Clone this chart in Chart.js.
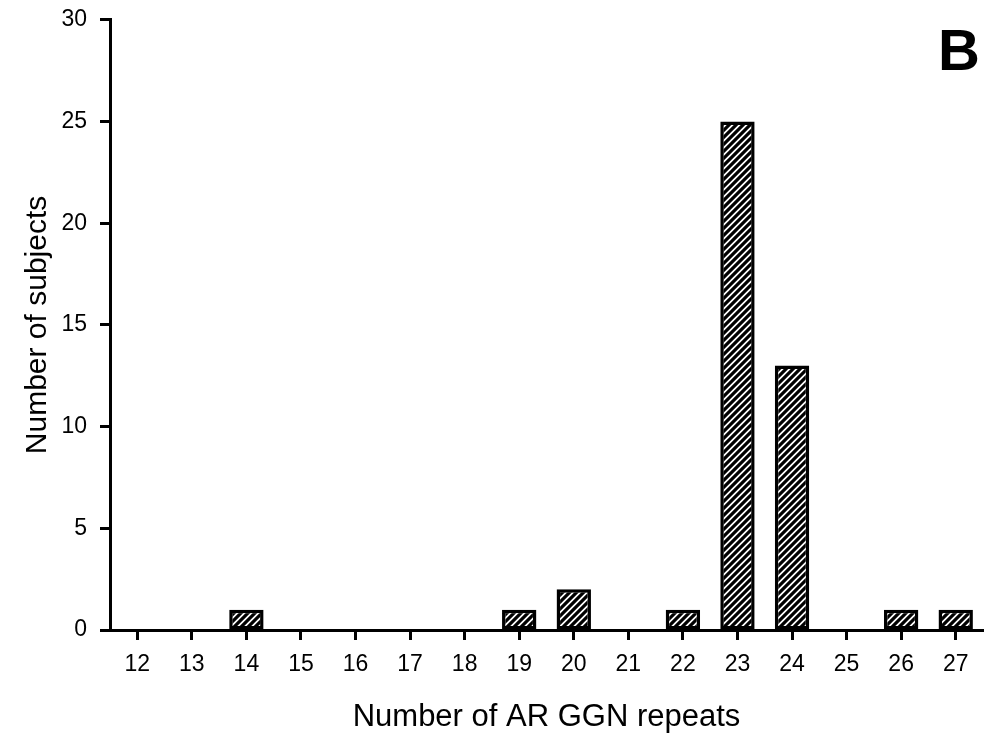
<!DOCTYPE html>
<html>
<head>
<meta charset="utf-8">
<script src="https://cdn.jsdelivr.net/npm/chart.js@4"></script>
<style>
  html, body { margin: 0; padding: 0; background: #fff; }
  #wrap { width: 986px; height: 740px; }
</style>
</head>
<body>
<div id="wrap"><canvas id="myChart"></canvas></div>
<script>
const repeats = ["12", "13", "14", "15", "16", "17", "18", "19", "20", "21", "22", "23", "24", "25", "26", "27"];
const subjects = [0, 0, 1, 0, 0, 0, 0, 1, 2, 0, 1, 25, 13, 0, 1, 1];
const yTicks = [0, 5, 10, 15, 20, 25, 30];

const FONT = "'Liberation Sans', Arial, sans-serif";

// diagonal hatch fill like the original figure
function hatch() {
  var s = 7;
  var c = document.createElement("canvas");
  c.width = s;
  c.height = s;
  var g = c.getContext("2d");
  g.fillStyle = "#fff";
  g.fillRect(0, 0, s, s);
  g.strokeStyle = "#000";
  g.lineWidth = 3.2;
  g.beginPath();
  g.moveTo(-1, s + 1); g.lineTo(s + 1, -1);
  g.moveTo(-2, 2); g.lineTo(2, -2);
  g.moveTo(s - 2, s + 2); g.lineTo(s + 2, s - 2);
  g.stroke();
  return g.createPattern(c, "repeat");
}

const panelLetter = {
  id: "panelLetter",
  afterDraw(chart) {
    const ctx = chart.ctx;
    ctx.save();
    ctx.font = "bold 58px " + FONT;
    ctx.fillStyle = "#000";
    ctx.textAlign = "right";
    ctx.textBaseline = "alphabetic";
    ctx.fillText("B", 980, 70);
    ctx.restore();
  },
};

let ctx = document.getElementById("myChart").getContext("2d");

let histChart = new Chart(ctx, {
  type: "bar",
  data: {
    labels: repeats,
    datasets: [
      {
        label: "Number of subjects",
        data: subjects,
        backgroundColor: hatch(),
        borderColor: "#000",
        borderWidth: 3.5,
        borderSkipped: false,
        barPercentage: 0.63,
        categoryPercentage: 1.0,
      },
    ],
  },
  options: {
    responsive: true,
    maintainAspectRatio: false,
    animation: false,
    layout: {
      padding: { top: 0, right: 3, left: 0, bottom: 0 },
    },
    plugins: {
      legend: { display: false },
      tooltip: { enabled: false },
    },
    scales: {
      x: {
        offset: true,
        grid: {
          drawOnChartArea: false,
          drawTicks: true,
          tickLength: 10,
          tickColor: "#000",
          tickWidth: 3,
          offset: false,
        },
        border: { display: true, color: "#000", width: 3 },
        ticks: {
          color: "#000",
          font: { family: FONT, size: 23 },
          padding: 11,
          maxRotation: 0,
          autoSkip: false,
        },
        title: {
          display: true,
          text: "Number of AR GGN repeats",
          color: "#000",
          font: { family: FONT, size: 31 },
          padding: { top: 12, bottom: 4 },
        },
        afterFit: (scale) => {
          scale.height = 110;
        },
      },
      y: {
        min: 0,
        max: 30,
        afterBuildTicks: (scale) => {
          scale.ticks = yTicks.map((v) => ({ value: v }));
        },
        grid: {
          drawOnChartArea: false,
          drawTicks: true,
          tickLength: 10,
          tickColor: "#000",
          tickWidth: 3,
        },
        border: { display: true, color: "#000", width: 3 },
        ticks: {
          color: "#000",
          // small lineHeight keeps the top padding near 20px
          font: { family: FONT, size: 23, lineHeight: 0.6 },
          padding: 13,
        },
        title: {
          display: true,
          text: "Number of subjects",
          color: "#000",
          font: { family: FONT, size: 30 },
          padding: { top: 20, bottom: 10 },
        },
        afterFit: (scale) => {
          scale.width = 110;
        },
      },
    },
  },
  plugins: [panelLetter],
});
</script>
</body>
</html>
